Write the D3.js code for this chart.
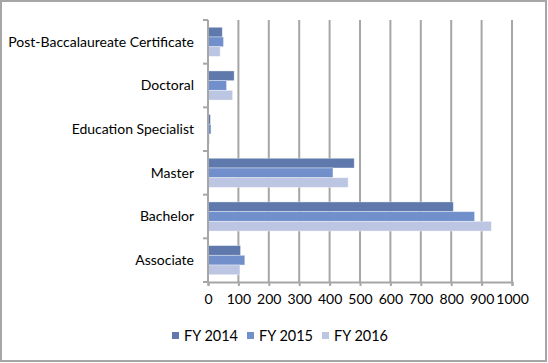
<!DOCTYPE html>
<html>
<head>
<meta charset="utf-8">
<script src="https://cdn.jsdelivr.net/npm/d3@7"></script>
<style>
  body { margin: 0; background: #fff; }
  svg { display: block; font-family: Lato, "Open Sans", sans-serif; }
</style>
</head>
<body>
<svg id="chart" width="548" height="363"></svg>
<script>
// Degree categories, drawn bottom to top like the source chart
const categories = ['Associate', 'Bachelor', 'Master', 'Education Specialist', 'Doctoral', 'Post-Baccalaureate Certificate']
const seriesNames = ['FY 2014', 'FY 2015', 'FY 2016']
const fy2014 = [107, 807, 481, 8, 86, 47]
const fy2015 = [121, 877, 411, 10, 61, 51]
const fy2016 = [105, 932, 461, 5, 81, 40]
const xTicks = [0, 100, 200, 300, 400, 500, 600, 700, 800, 900, 1000]

const colors = ['#5f79ad', '#7190cb', '#bcc6e2']
const series = [fy2014, fy2015, fy2016]

const svg = d3.select('#chart')

// Outer frame
svg.append('rect')
    .attr('x', 1).attr('y', 1)
    .attr('width', 545).attr('height', 360)
    .attr('fill', 'none')
    .attr('stroke', '#a6a6a6')
    .attr('stroke-width', 2)

const margin = { left: 208, right: 36, top: 20, bottom: 81 }
const width = 548 - margin.left - margin.right
const height = 363 - margin.top - margin.bottom

const g = svg.append('g').attr('transform', `translate(${margin.left},${margin.top})`)

const x = d3.scaleLinear().domain([0, 1000]).range([0, width])

// Reverse so Associate sits at the bottom
const y = d3.scaleBand().domain(categories.slice().reverse()).range([0, height])
// Excel gap width 150%: three bars take 3/4.5 of each band
const inner = d3.scaleBand().domain(seriesNames)
    .range([y.bandwidth() * 0.75 / 4.5, y.bandwidth() * (1 - 0.75 / 4.5)])

// Vertical gridlines
g.selectAll('.grid').data(xTicks.slice(1)).join('line')
    .attr('class', 'grid')
    .attr('x1', d => x(d)).attr('x2', d => x(d))
    .attr('y1', 0).attr('y2', height)
    .attr('stroke', '#a6a6a6')
    .attr('stroke-width', 2)

// Bars
seriesNames.forEach((name, i) => {
  g.selectAll('.bar-' + i).data(categories).join('rect')
      .attr('class', 'bar-' + i)
      .attr('x', 0)
      .attr('y', (d, j) => y(d) + inner(name))
      .attr('width', (d, j) => x(series[i][j]))
      .attr('height', inner.bandwidth())
      .attr('fill', colors[i])
      .attr('stroke', 'rgba(255,255,255,0.45)')
      .attr('stroke-width', 0.8)
})

// Bottom axis
const xAxis = g.append('g')
    .attr('transform', `translate(0,${height})`)
    .call(d3.axisBottom(x).tickValues(xTicks).tickFormat(d3.format('d')).tickSize(4).tickPadding(8))
xAxis.select('.domain').attr('stroke', '#a6a6a6').attr('stroke-width', 2)
xAxis.selectAll('.tick line').attr('stroke', '#a6a6a6').attr('stroke-width', 2)
xAxis.selectAll('text').attr('font-size', 14).attr('fill', '#000').attr('font-family', 'Lato, sans-serif')

// Left axis with ticks between categories
const yAxis = g.append('g')
yAxis.append('line')
    .attr('x1', 0).attr('x2', 0).attr('y1', 0).attr('y2', height)
    .attr('stroke', '#a6a6a6').attr('stroke-width', 2)
const bounds = d3.range(categories.length + 1).map(k => k * y.step())
yAxis.selectAll('.ytick').data(bounds).join('line')
    .attr('class', 'ytick')
    .attr('x1', -5).attr('x2', 0)
    .attr('y1', d => d).attr('y2', d => d)
    .attr('stroke', '#a6a6a6').attr('stroke-width', 2)
yAxis.selectAll('.ylabel').data(categories).join('text')
    .attr('class', 'ylabel')
    .attr('x', -14)
    .attr('y', d => y(d) + y.bandwidth() / 2)
    .attr('dy', '0.35em')
    .attr('text-anchor', 'end')
    .attr('font-size', 14)
    .attr('fill', '#000')
    .text(d => d)

// Legend
const legendX = [172, 247, 322]
const legend = svg.append('g')
seriesNames.forEach((name, i) => {
  legend.append('rect')
      .attr('x', legendX[i]).attr('y', 332)
      .attr('width', 7).attr('height', 7)
      .attr('fill', colors[i])
  legend.append('text')
      .attr('x', legendX[i] + 12).attr('y', 336)
      .attr('dy', '0.35em')
      .attr('font-size', 14.5)
      .attr('fill', '#000')
      .text(name)
})
</script>
</body>
</html>
